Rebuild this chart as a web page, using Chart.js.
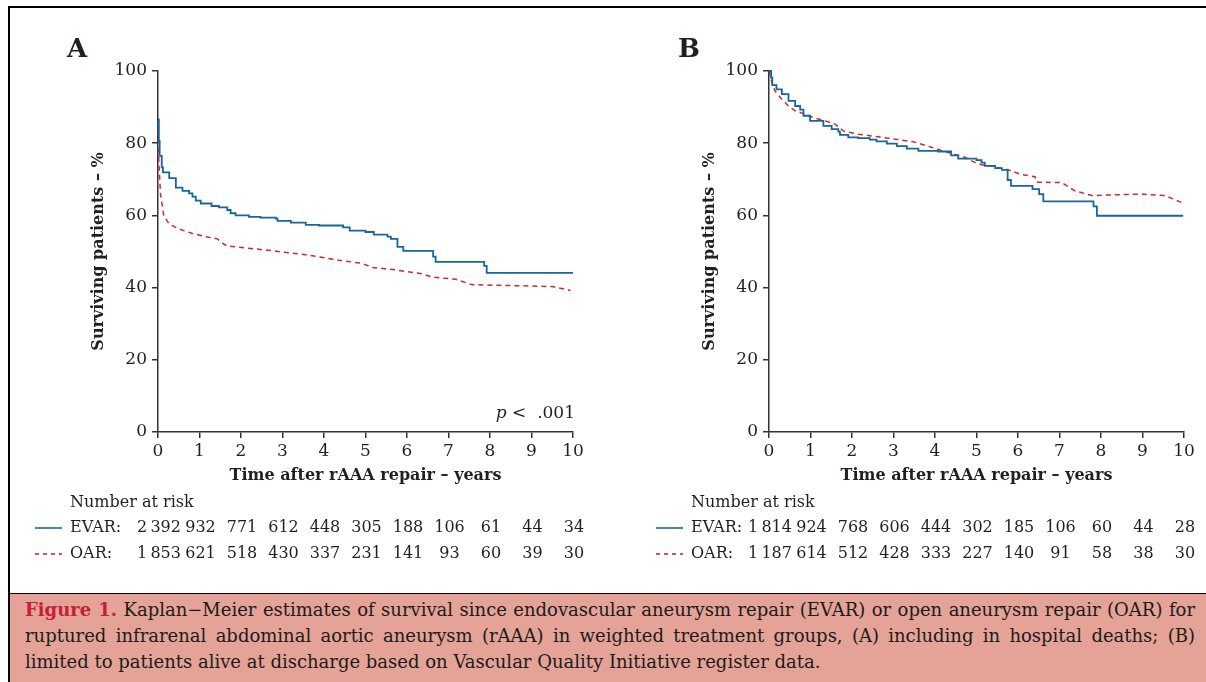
<!DOCTYPE html>
<html>
<head>
<meta charset="utf-8">
<script src="https://cdn.jsdelivr.net/npm/chart.js@4.4.0/dist/chart.umd.min.js"></script>
<style>
  html, body { margin: 0; padding: 0; background: #fff; }
  #page { position: relative; width: 1206px; height: 682px; overflow: hidden; background: #fff; font-family: 'DejaVu Serif', serif; }
  #frameTop { position: absolute; left: 8px; top: 6px; width: 1198px; height: 2px; background: #000; }
  #frameLeft { position: absolute; left: 8px; top: 6px; width: 2px; height: 676px; background: #000; }
  .panel { position: absolute; top: 0; }
  #caption { position: absolute; left: 10px; top: 593px; width: 1196px; height: 89px; box-sizing: border-box;
             background: #e4a396; border-top: 1.5px solid #000; padding: 3px 11px 0 15px;
             font-size: 18px; line-height: 26px; color: #1b1b1b; }
  #caption div { text-align: justify; text-align-last: justify; white-space: nowrap; }
  #caption div.last { text-align-last: left; }
  #caption b { color: #c41f3a; font-weight: 600; }
</style>
</head>
<body>
<div id="page">
  <div id="frameTop"></div>
  <div id="frameLeft"></div>
  <canvas id="chartA" class="panel" style="left:0px" width="603" height="590"></canvas>
  <canvas id="chartB" class="panel" style="left:603px" width="603" height="590"></canvas>
  <div id="caption">
    <div><b>Figure 1.</b> Kaplan−Meier estimates of survival since endovascular aneurysm repair (EVAR) or open aneurysm repair (OAR) for</div>
    <div>ruptured infrarenal abdominal aortic aneurysm (rAAA) in weighted treatment groups, (A) including in hospital deaths; (B)</div>
    <div class="last">limited to patients alive at discharge based on Vascular Quality Initiative register data.</div>
  </div>
</div>
<script>
// Ticks
const yearTicks = [0, 1, 2, 3, 4, 5, 6, 7, 8, 9, 10];

// Panel A – EVAR (years, % surviving)
const evarA_t = [0, 0.02, 0.04, 0.09, 0.12, 0.27, 0.43, 0.59, 0.75, 0.83, 0.91, 1.03, 1.29, 1.47, 1.67, 1.75, 1.87, 2.19, 2.47, 2.84, 2.88, 3.2, 3.56, 3.88, 4.46, 4.62, 5.0, 5.2, 5.53, 5.61, 5.77, 5.91, 6.63, 6.69, 7.86, 7.92, 10];
const evarA_s = [86.6, 80.6, 76.5, 73.3, 71.9, 70.3, 67.7, 66.8, 66.1, 65.2, 64.1, 63.3, 62.6, 62.2, 61.5, 60.6, 60.0, 59.6, 59.4, 59.1, 58.5, 58.0, 57.4, 57.2, 56.7, 55.8, 55.4, 54.7, 54.1, 53.5, 51.3, 50.2, 48.6, 47.1, 46.0, 44.1, 44.1];
// Panel A – OAR
const oarA_t = [0, 0.02, 0.06, 0.14, 0.27, 0.51, 0.83, 1.15, 1.43, 1.55, 1.67, 2.11, 2.76, 3.56, 4.36, 4.92, 5.16, 5.73, 6.37, 6.61, 7.17, 7.57, 8.37, 9.5, 9.94];
const oarA_s = [86.2, 75.1, 65.9, 59.9, 57.6, 56.2, 55.0, 54.1, 53.5, 52.3, 51.5, 51.0, 50.2, 49.1, 47.6, 46.7, 45.6, 44.9, 43.8, 42.9, 42.3, 40.8, 40.6, 40.3, 39.2];

// Panel B – EVAR
const evarB_t = [0, 0.05, 0.08, 0.18, 0.31, 0.47, 0.63, 0.75, 0.83, 0.99, 1.31, 1.51, 1.67, 1.71, 1.91, 2.15, 2.43, 2.59, 2.84, 3.08, 3.32, 3.6, 4.08, 4.39, 4.56, 5.0, 5.12, 5.2, 5.45, 5.61, 5.75, 5.83, 6.35, 6.51, 6.61, 7.82, 7.9, 9.98];
const evarB_s = [100, 98.2, 96.1, 94.9, 93.6, 91.7, 90.3, 89.3, 87.6, 86.2, 84.8, 83.9, 83.2, 82.3, 81.6, 81.4, 81.0, 80.5, 79.9, 79.2, 78.5, 77.9, 77.7, 76.6, 75.7, 75.3, 74.6, 73.7, 73.1, 72.6, 69.8, 68.2, 67.3, 65.9, 63.9, 62.5, 59.9, 59.9];
// Panel B – OAR
const oarB_t = [0, 0.06, 0.14, 0.31, 0.47, 0.63, 0.83, 1.07, 1.35, 1.59, 1.79, 2.15, 2.88, 3.52, 3.88, 4.32, 4.72, 5.04, 5.41, 5.77, 6.09, 6.41, 6.45, 7.05, 7.37, 7.78, 8.34, 8.98, 9.54, 9.94];
const oarB_s = [100, 97.2, 94.5, 92.2, 90.3, 89.0, 88.2, 87.1, 86.2, 85.3, 83.4, 82.5, 81.4, 80.3, 79.0, 77.4, 76.1, 74.2, 73.5, 72.6, 71.3, 70.7, 69.2, 69.1, 66.8, 65.5, 65.7, 65.9, 65.5, 63.6];

// Number at risk (thin space as thousands separator)
const riskEvarA = ['2\u2009392', '932', '771', '612', '448', '305', '188', '106', '61', '44', '34'];
const riskOarA  = ['1\u2009853', '621', '518', '430', '337', '231', '141', '93', '60', '39', '30'];
const riskEvarB = ['1\u2009814', '924', '768', '606', '444', '302', '185', '106', '60', '44', '28'];
const riskOarB  = ['1\u2009187', '614', '512', '428', '333', '227', '140', '91', '58', '38', '30'];

const FONT = "'DejaVu Serif', serif";
const INK = '#231f20';
const AXIS = '#333333';
const BLUE = '#17669c';
const RED = '#c8283c';

const toPoints = (ts, ss) => ts.map((t, i) => ({ x: t, y: ss[i] }));

// Panel letter, p value and the number-at-risk table
function extrasPlugin(letter, evarRisk, oarRisk, pText, labelOffset) {
    return {
        id: 'extras' + letter,
        afterDraw(chart) {
            const ctx = chart.ctx;
            const xs = chart.scales.x;
            const axisX = chart.chartArea.left;
            const labelX = axisX - labelOffset;
            ctx.save();
            ctx.fillStyle = INK;

            ctx.font = `bold 26px ${FONT}`;
            ctx.textAlign = 'left';
            ctx.textBaseline = 'alphabetic';
            ctx.fillText(letter, axisX - 91, 57);

            if (pText) {
                ctx.font = `17px ${FONT}`;
                ctx.textAlign = 'right';
                const rest = ' <  .001';
                const rx = chart.chartArea.right + 2;
                ctx.fillText(rest, rx, 418);
                const w = ctx.measureText(rest).width;
                ctx.font = `italic 17px ${FONT}`;
                ctx.fillText(pText, rx - w, 418);
            }

            ctx.font = `16px ${FONT}`;
            ctx.textBaseline = 'middle';
            ctx.textAlign = 'left';
            ctx.fillText('Number at risk', labelX, 503);
            ctx.fillText('EVAR:', labelX, 528);
            ctx.fillText('OAR:', labelX, 554);

            ctx.textAlign = 'center';
            yearTicks.forEach((t, i) => {
                const px = xs.getPixelForValue(t) + 1;
                ctx.fillText(evarRisk[i], px, 528);
                ctx.fillText(oarRisk[i], px, 554);
            });

            ctx.lineWidth = 1.6;
            ctx.strokeStyle = BLUE;
            ctx.beginPath();
            ctx.moveTo(labelX - 35, 528);
            ctx.lineTo(labelX - 8, 528);
            ctx.stroke();
            ctx.strokeStyle = RED;
            ctx.setLineDash([4, 4]);
            ctx.beginPath();
            ctx.moveTo(labelX - 35, 554);
            ctx.lineTo(labelX - 8, 554);
            ctx.stroke();
            ctx.restore();
        }
    };
}

function makeConfig(evar, oar, padLeft, padRight, plugin) {
    return {
        type: 'line',
        data: {
            datasets: [
                { label: 'EVAR', data: evar, borderColor: BLUE, borderWidth: 1.8, pointRadius: 0, stepped: true, clip: 3 },
                { label: 'OAR', data: oar, borderColor: RED, borderWidth: 1.5, borderDash: [5, 4], pointRadius: 0, tension: 0, clip: 3 }
            ]
        },
        options: {
            responsive: false,
            animation: false,
            devicePixelRatio: 1,
            layout: { padding: { left: padLeft, right: padRight, top: 71, bottom: 105 } },
            plugins: { legend: { display: false }, tooltip: { enabled: false } },
            scales: {
                x: {
                    type: 'linear', min: 0, max: 10,
                    afterBuildTicks: s => { s.ticks = yearTicks.map(v => ({ value: v })); },
                    afterFit: s => { s.height = 53; },
                    grid: { drawOnChartArea: false, drawTicks: true, tickLength: 6, color: AXIS, lineWidth: 1.5 },
                    border: { display: true, color: AXIS, width: 1.5 },
                    ticks: { color: INK, font: { family: FONT, size: 17 }, padding: 3, maxRotation: 0 },
                    title: { display: true, text: 'Time after rAAA repair – years', color: INK, padding: 0,
                             font: { family: FONT, size: 16, weight: 'bold' } }
                },
                y: {
                    min: 0, max: 100,
                    ticks: { stepSize: 20, color: INK, font: { family: FONT, size: 17 }, padding: 5 },
                    afterFit: s => { s.width = 69; },
                    grid: { drawOnChartArea: false, drawTicks: true, tickLength: 6, color: AXIS, lineWidth: 1.5 },
                    border: { display: true, color: AXIS, width: 1.5 },
                    title: { display: true, text: 'Surviving patients – %', color: INK, padding: 0,
                             font: { family: FONT, size: 16, weight: 'bold' } }
                }
            }
        },
        plugins: [plugin]
    };
}

new Chart(document.getElementById('chartA'),
    makeConfig(toPoints(evarA_t, evarA_s), toPoints(oarA_t, oarA_s), 89, 30,
        extrasPlugin('A', riskEvarA, riskOarA, 'p', 88)));

new Chart(document.getElementById('chartB'),
    makeConfig(toPoints(evarB_t, evarB_s), toPoints(oarB_t, oarB_s), 97, 22,
        extrasPlugin('B', riskEvarB, riskOarB, null, 78)));
</script>
</body>
</html>
